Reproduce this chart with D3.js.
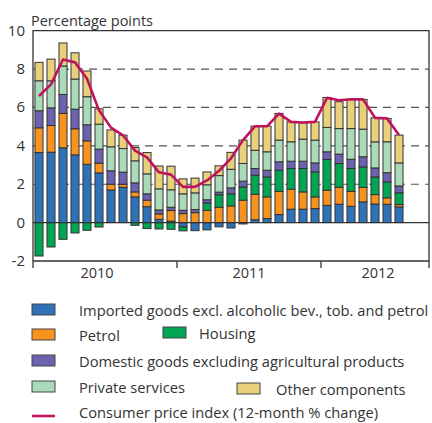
<!DOCTYPE html>
<html>
<head>
<meta charset="utf-8">
<script src="https://cdn.jsdelivr.net/npm/d3@7"></script>
<style>
body { margin: 0; background: #fff; }
svg { display: block; font-family: "Open Sans", sans-serif; }
</style>
</head>
<body>
<script>
// months on the axis: Jan 2010 - Sep 2012 (data runs to Jul 2012)
var months = [];
["2010", "2011", "2012"].forEach(function(yr) {
    var n = yr == "2012" ? 9 : 12;
    for (var m = 1; m <= n; m++) months.push(yr + "-" + (m < 10 ? "0" : "") + m);
});
var years = ["2010", "2011", "2012"];
var yTicks = [-2, 0, 2, 4, 6, 8, 10];

var imported = [3.65, 3.67, 3.90, 3.53, 3.04, 2.59, 1.70, 1.84, 1.34, 0.83, 0.17, 0.08,
                -0.23, -0.42, -0.38, -0.22, -0.28, -0.07, 0.15, 0.21, 0.42, 0.70, 0.70, 0.73,
                0.90, 0.96, 0.85, 1.08, 0.97, 0.96, 0.82];
var petrol = [1.29, 1.39, 1.79, 1.36, 1.22, 0.51, 0.30, 0.16, 0.26, 0.34, 0.28, 0.55,
              0.47, 0.52, 0.64, 0.80, 0.87, 1.17, 1.33, 1.13, 1.21, 1.04, 0.90, 0.61,
              0.79, 0.88, 0.78, 0.75, 0.49, 0.33, 0.12];
var housing = [-1.74, -1.27, -0.87, -0.54, -0.40, -0.23, 0, 0, -0.14, -0.31, -0.33, -0.35,
               -0.20, 0, 0.39, 0.65, 0.63, 0.69, 0.99, 1.04, 1.10, 1.08, 1.22, 1.30,
               1.60, 1.24, 1.19, 1.07, 0.92, 0.83, 0.61];
var domestic = [0.89, 0.92, 0.99, 1.02, 0.84, 0.73, 0.70, 0.63, 0.47, 0.33, 0.21, 0.17,
                0.17, 0.16, 0.16, 0.14, 0.31, 0.30, 0.35, 0.35, 0.44, 0.38, 0.38, 0.47,
                0.40, 0.49, 0.48, 0.53, 0.47, 0.48, 0.36];
var services = [1.56, 1.41, 1.48, 1.57, 1.46, 1.30, 1.25, 1.23, 1.15, 1.04, 1.10, 0.91,
                0.86, 0.87, 0.78, 0.86, 0.97, 0.92, 0.95, 0.96, 1.13, 1.01, 1.15, 1.19,
                1.27, 1.33, 1.60, 1.44, 1.36, 1.61, 1.20];
var other = [0.96, 1.13, 1.20, 1.37, 1.34, 0.80, 0.88, 0.70, 0.69, 1.11, 1.19, 1.23,
             0.78, 0.77, 0.67, 0.51, 0.88, 1.22, 1.26, 1.34, 1.39, 1.04, 0.85, 0.95,
             1.56, 1.40, 1.52, 1.55, 1.25, 1.22, 1.45];
var cpi = [6.6, 7.2, 8.5, 8.35, 7.5, 5.85, 4.95, 4.55, 3.75, 3.4, 2.62, 2.5,
           1.86, 1.86, 2.2, 2.7, 3.35, 4.3, 5.02, 5.02, 5.68, 5.25, 5.22, 5.25,
           6.5, 6.38, 6.43, 6.42, 5.46, 5.43, 4.56];

var keys = ["imported", "petrol", "housing", "domestic", "services", "other"];
var labels = {
    imported: "Imported goods excl. alcoholic bev., tob. and petrol",
    petrol: "Petrol",
    housing: "Housing",
    domestic: "Domestic goods excluding agricultural products",
    services: "Private services",
    other: "Other components"
};
var colors = {
    imported: "#2f72b8",
    petrol: "#f7931e",
    housing: "#00a651",
    domestic: "#6b63b0",
    services: "#a9dbb9",
    other: "#e9d17c"
};
var lineColor = "#c0135e";

var rows = cpi.map(function(v, i) {
    return {
        month: months[i], imported: imported[i], petrol: petrol[i], housing: housing[i],
        domestic: domestic[i], services: services[i], other: other[i], cpi: v
    };
});

var w = 432, h = 423;
var svg = d3.select("body").append("svg").attr("width", w).attr("height", h);

var x = d3.scaleBand().domain(months).range([33, 429]).paddingInner(0.33).paddingOuter(0.165);
var y = d3.scaleLinear().domain([-2, 10]).range([261, 30.7]);
var step = x.step();

// gridlines
svg.append("g").selectAll("line")
    .data([2, 4, 6, 8])
    .enter().append("line")
    .attr("x1", 33).attr("x2", 429)
    .attr("y1", function(d) { return y(d); })
    .attr("y2", function(d) { return y(d); })
    .attr("stroke", "#555")
    .attr("stroke-width", 1.2)
    .attr("stroke-dasharray", "8,6");

// bars
var stack = d3.stack().keys(keys).offset(d3.stackOffsetDiverging);
var series = stack(rows);

var groups = svg.append("g").selectAll("g")
    .data(series)
    .enter().append("g")
    .attr("fill", function(d) { return colors[d.key]; });

groups.selectAll("rect")
    .data(function(d) { return d; })
    .enter().append("rect")
    .filter(function(d) { return d[1] - d[0] != 0; })
    .attr("x", function(d) { return x(d.data.month); })
    .attr("width", x.bandwidth())
    .attr("y", function(d) { return y(d[1]); })
    .attr("height", function(d) { return y(d[0]) - y(d[1]); })
    .attr("stroke", "#333")
    .attr("stroke-width", 1);

// zero line
svg.append("line")
    .attr("x1", 33).attr("x2", 429)
    .attr("y1", y(0)).attr("y2", y(0))
    .attr("stroke", "#333").attr("stroke-width", 1.3);

// cpi line
var line = d3.line()
    .x(function(d) { return x(d.month) + x.bandwidth() / 2; })
    .y(function(d) { return y(d.cpi); });

svg.append("path")
    .datum(rows)
    .attr("d", line)
    .attr("fill", "none")
    .attr("stroke", lineColor)
    .attr("stroke-width", 2.6)
    .attr("stroke-linejoin", "round");

// frame
svg.append("path")
    .attr("d", "M33," + (y(-2) + 7) + "V" + y(10) + "H429V" + (y(-2) + 7))
    .attr("fill", "none").attr("stroke", "#333").attr("stroke-width", 1.3);
svg.append("line")
    .attr("x1", 33).attr("x2", 429).attr("y1", y(-2)).attr("y2", y(-2))
    .attr("stroke", "#333").attr("stroke-width", 1.3);

// year ticks and labels
var yearStart = years.map(function(yr) { return x(yr + "-01") - (step - x.bandwidth()) / 2; });
svg.append("g").selectAll("line")
    .data(yearStart.slice(1))
    .enter().append("line")
    .attr("x1", function(d) { return d; }).attr("x2", function(d) { return d; })
    .attr("y1", y(-2)).attr("y2", y(-2) + 7)
    .attr("stroke", "#333").attr("stroke-width", 1.3);

svg.append("g").selectAll("text")
    .data(years)
    .enter().append("text")
    .attr("x", function(d, i) {
        var a = yearStart[i], b = i < years.length - 1 ? yearStart[i + 1] : 429;
        var mid = (a + b) / 2;
        if (i == 0) mid -= 8;
        if (i == years.length - 1) mid += 3;
        return mid;
    })
    .attr("y", y(-2) + 17)
    .attr("text-anchor", "middle")
    .attr("font-size", 14.5)
    .attr("fill", "#333")
    .text(function(d) { return d; });

// y labels
svg.append("g").selectAll("text")
    .data(yTicks)
    .enter().append("text")
    .attr("x", 25)
    .attr("y", function(d) { return y(d) + 5; })
    .attr("text-anchor", "end")
    .attr("font-size", 15)
    .attr("fill", "#333")
    .text(function(d) { return d; });

svg.append("text")
    .attr("x", 31).attr("y", 25.5)
    .attr("font-size", 14.5)
    .attr("fill", "#333")
    .text("Percentage points");

// legend
var legendItems = [
    { key: "imported", sx: 32, tx: 79, base: 316 },
    { key: "petrol", sx: 32, tx: 79, base: 341 },
    { key: "housing", sx: 163, tx: 199, base: 339 },
    { key: "domestic", sx: 32, tx: 79, base: 367 },
    { key: "services", sx: 32, tx: 79, base: 393 },
    { key: "other", sx: 237, tx: 276, base: 395 }
];
var leg = svg.append("g").attr("font-size", 14.7).attr("fill", "#333");
legendItems.forEach(function(it) {
    leg.append("rect")
        .attr("x", it.sx).attr("y", it.base - 12)
        .attr("width", 23).attr("height", 11)
        .attr("fill", colors[it.key])
        .attr("stroke", "#444").attr("stroke-width", 1);
    leg.append("text")
        .attr("x", it.tx).attr("y", it.base)
        .text(labels[it.key]);
});
leg.append("line")
    .attr("x1", 32).attr("x2", 55).attr("y1", 416).attr("y2", 416)
    .attr("stroke", lineColor).attr("stroke-width", 2.6);
leg.append("text")
    .attr("x", 79).attr("y", 418)
    .text("Consumer price index (12-month % change)");
</script>
</body>
</html>
